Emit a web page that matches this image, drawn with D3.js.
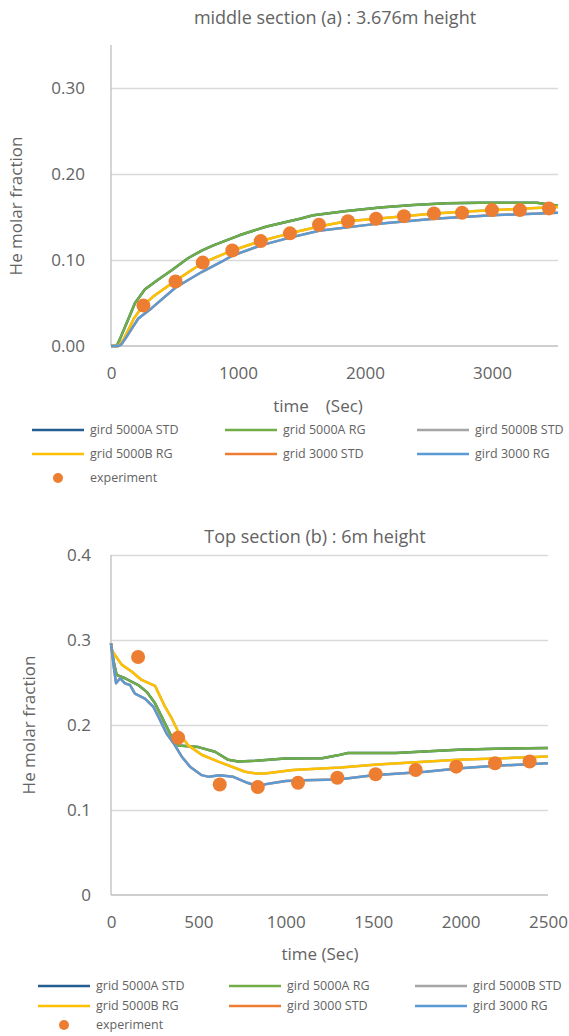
<!DOCTYPE html>
<html>
<head>
<meta charset="utf-8">
<script src="https://cdn.jsdelivr.net/npm/d3@7"></script>
<style>
  body { margin: 0; background: #fff; }
  svg { display: block; font-family: "Open Sans", "Noto Sans", sans-serif; }
  text { fill: #636363; }
</style>
</head>
<body>
<svg id="chart" width="569" height="1036"></svg>
<script>
/* globals d3 */

// ---- middle section (a) ----
var midXTicks = [0, 1000, 2000, 3000];
var midYTicks = [0, 0.1, 0.2, 0.3];

var mid5000A_RG = [[0,0],[45,0],[70,0.008],[110,0.022],[150,0.036],[189,0.050],[268,0.066],[370,0.077],[478,0.088],[606,0.102],[714,0.111],[806,0.117],[1016,0.129],[1226,0.139],[1488,0.148],[1593,0.152],[1856,0.157],[2118,0.161],[2380,0.164],[2643,0.166],[2905,0.1665],[3168,0.1665],[3352,0.1665],[3520,0.163]];
var mid5000B_RG = [[0,0],[55,0],[71,0.002],[100,0.008],[136,0.0185],[180,0.032],[254,0.0475],[346,0.059],[509,0.076],[714,0.096],[871,0.106],[955,0.111],[1179,0.122],[1409,0.131],[1638,0.139],[1856,0.145],[2087,0.148],[2307,0.151],[2543,0.154],[2764,0.156],[3220,0.1595],[3520,0.1615]];
var mid3000_RG = [[0,0],[60,0],[82,0.002],[120,0.01],[150,0.017],[215,0.032],[320,0.044],[509,0.068],[714,0.086],[871,0.098],[955,0.105],[1179,0.117],[1409,0.126],[1638,0.134],[2087,0.142],[2543,0.148],[3000,0.152],[3520,0.155]];
// STD runs sit under the RG runs in the picture
var mid5000A_STD = mid5000A_RG;
var mid5000B_STD = mid5000B_RG;
var mid3000_STD = mid3000_RG;

var midExpTime = [255, 508, 722, 955, 1179, 1409, 1638, 1866, 2087, 2307, 2543, 2764, 3000, 3220, 3449];
var midExpValue = [0.047, 0.075, 0.097, 0.111, 0.122, 0.131, 0.141, 0.145, 0.148, 0.151, 0.154, 0.155, 0.158, 0.158, 0.160];

// ---- top section (b) ----
var topXTicks = [0, 500, 1000, 1500, 2000, 2500];
var topYTicks = [0, 0.1, 0.2, 0.3, 0.4];

var top5000A_RG = [[0,0.296],[15,0.275],[32,0.259],[80,0.255],[156,0.247],[204,0.239],[252,0.2255],[299,0.206],[347,0.186],[385,0.176],[500,0.174],[595,0.1685],[671,0.159],[728,0.157],[830,0.158],[995,0.1605],[1208,0.161],[1290,0.164],[1355,0.167],[1628,0.167],[1985,0.171],[2200,0.172],[2500,0.173]];
var top5000B_RG = [[0,0.296],[4,0.288],[61,0.271],[118,0.263],[175,0.253],[252,0.246],[309,0.2215],[347,0.208],[385,0.192],[442,0.176],[519,0.165],[614,0.157],[767,0.145],[830,0.143],[881,0.143],[995,0.146],[1040,0.147],[1313,0.150],[1523,0.1535],[1985,0.159],[2500,0.163]];
var top3000_RG = [[0,0.296],[15,0.27],[29,0.249],[52,0.255],[80,0.249],[109,0.247],[137,0.237],[194,0.231],[242,0.2215],[280,0.206],[318,0.190],[366,0.176],[404,0.163],[452,0.151],[519,0.141],[560,0.139],[620,0.141],[700,0.139],[780,0.132],[840,0.128],[900,0.131],[1000,0.134],[1100,0.135],[1300,0.136],[1500,0.141],[1800,0.145],[2000,0.149],[2200,0.152],[2500,0.155]];
var top5000A_STD = top5000A_RG;
var top5000B_STD = top5000B_RG;
var top3000_STD = top3000_RG;

var topExpTime = [155, 384, 622, 840, 1070, 1295, 1514, 1743, 1975, 2197, 2395];
var topExpValue = [0.280, 0.185, 0.130, 0.127, 0.132, 0.138, 0.142, 0.147, 0.151, 0.155, 0.157];

var colors = ['#255e91', '#70ad47', '#a5a5a5', '#ffc000', '#ed7d31', '#5b9bd5'];
var expColor = '#ed7d31';

var svg = d3.select('#chart');

drawChart({
  title: 'middle section (a) : 3.676m height',
  titleX: 335, titleY: 24,
  xTitle: 'time\u3000(Sec)', xTitleX: 318,
  left: 111, right: 558, top: 45, bottom: 346,
  xMax: 3520, yMax: 0.35,
  xTicks: midXTicks, yTicks: midYTicks,
  yFormat: d3.format('.2f'),
  yLabelX: 85, xLabelY: 379, xTitleY: 412, yTitleX: 22, yTitleY: 206,
  series: [mid5000A_STD, mid5000A_RG, mid5000B_STD, mid5000B_RG, mid3000_STD, mid3000_RG],
  expTime: midExpTime, expValue: midExpValue,
  names: ['gird 5000A STD', 'grid 5000A RG', 'gird 5000B STD', 'grid 5000B RG', 'grid 3000 STD', 'gird 3000 RG'],
  legendX: [32, 225, 417], legendY: [430, 454, 478]
});

drawChart({
  title: 'Top section (b) : 6m height',
  titleX: 315, titleY: 543,
  xTitle: 'time (Sec)', xTitleX: 320,
  left: 111, right: 548, top: 555, bottom: 895,
  xMax: 2500, yMax: 0.4,
  xTicks: topXTicks, yTicks: topYTicks,
  yFormat: function (d) { return d === 0 ? '0' : d3.format('.1f')(d); },
  yLabelX: 91, xLabelY: 928, xTitleY: 960, yTitleX: 35, yTitleY: 725,
  series: [top5000A_STD, top5000A_RG, top5000B_STD, top5000B_RG, top3000_STD, top3000_RG],
  expTime: topExpTime, expValue: topExpValue,
  names: ['grid 5000A STD', 'gird 5000A RG', 'gird 5000B STD', 'grid 5000B RG', 'gird 3000 STD', 'gird 3000 RG'],
  legendX: [38, 229, 415], legendY: [986, 1006, 1025]
});

function drawChart(c) {
  var g = svg.append('g');

  var x = d3.scaleLinear().domain([0, c.xMax]).range([c.left, c.right]);
  var y = d3.scaleLinear().domain([0, c.yMax]).range([c.bottom, c.top]);

  // Title
  g.append('text')
    .attr('x', c.titleX)
    .attr('y', c.titleY)
    .attr('text-anchor', 'middle')
    .attr('font-size', 18)
    .text(c.title);

  // Gridlines
  var gridTicks = c.yTicks.filter(function (d) { return d > 0; });
  var yAxis = d3.axisLeft(y)
    .tickValues(gridTicks)
    .tickSize(-(c.right - c.left))
    .tickFormat('');
  g.append('g')
    .attr('transform', 'translate(' + c.left + ',0)')
    .call(yAxis)
    .call(function (s) {
      s.select('.domain').remove();
      s.selectAll('.tick line').attr('stroke', '#d9d9d9').attr('stroke-width', 1.3);
    });

  // Y labels
  g.selectAll('.ylab')
    .data(c.yTicks)
    .enter().append('text')
    .attr('x', c.yLabelX)
    .attr('y', function (d) { return y(d); })
    .attr('dy', '0.35em')
    .attr('text-anchor', 'end')
    .attr('font-size', 17)
    .text(c.yFormat);

  // Axis lines
  g.append('line')
    .attr('x1', c.left).attr('x2', c.left)
    .attr('y1', c.top).attr('y2', c.bottom)
    .attr('stroke', '#bfbfbf').attr('stroke-width', 1.3);
  g.append('line')
    .attr('x1', c.left).attr('x2', c.right)
    .attr('y1', c.bottom).attr('y2', c.bottom)
    .attr('stroke', '#bfbfbf').attr('stroke-width', 1.3);

  // X labels
  var xAxis = d3.axisBottom(x)
    .tickValues(c.xTicks)
    .tickFormat(d3.format('d'))
    .tickSize(0).tickPadding(0);
  g.append('g')
    .attr('transform', 'translate(0,' + (c.xLabelY - 12) + ')')
    .call(xAxis)
    .attr('font-family', null)
    .attr('font-size', null)
    .call(function (s) {
      s.select('.domain').remove();
      s.selectAll('text')
        .attr('font-size', 17)
        .attr('fill', null);
    });

  // Axis titles
  g.append('text')
    .attr('x', c.xTitleX)
    .attr('y', c.xTitleY)
    .attr('text-anchor', 'middle')
    .attr('font-size', 17)
    .style('white-space', 'pre')
    .text(c.xTitle);

  g.append('text')
    .attr('transform', 'translate(' + c.yTitleX + ',' + c.yTitleY + ') rotate(-90)')
    .attr('text-anchor', 'middle')
    .attr('font-size', 17)
    .text('He molar fraction');

  // Model runs
  var line = d3.line()
    .x(function (d) { return x(d[0]); })
    .y(function (d) { return y(d[1]); });

  g.selectAll('.run')
    .data(c.series)
    .enter().append('path')
    .attr('d', line)
    .attr('fill', 'none')
    .attr('stroke', function (d, i) { return colors[i]; })
    .attr('stroke-width', 2.5)
    .attr('stroke-linejoin', 'round');

  // Experiment points
  g.selectAll('.exp')
    .data(c.expTime)
    .enter().append('circle')
    .attr('cx', function (d) { return x(d); })
    .attr('cy', function (d, i) { return y(c.expValue[i]); })
    .attr('r', 7)
    .attr('fill', expColor);

  // Legend
  c.names.forEach(function (name, i) {
    var lx = c.legendX[i % 3], ly = c.legendY[Math.floor(i / 3)];
    g.append('line')
      .attr('x1', lx).attr('x2', lx + 52)
      .attr('y1', ly).attr('y2', ly)
      .attr('stroke', colors[i]).attr('stroke-width', 2.5);
    g.append('text')
      .attr('x', lx + 58).attr('y', ly)
      .attr('dy', '0.35em')
      .attr('font-size', 12.5)
      .text(name);
  });
  var ey = c.legendY[2];
  g.append('circle')
    .attr('cx', c.legendX[0] + 26).attr('cy', ey)
    .attr('r', 5).attr('fill', expColor);
  g.append('text')
    .attr('x', c.legendX[0] + 58).attr('y', ey)
    .attr('dy', '0.35em')
    .attr('font-size', 12.5)
    .text('experiment');
}
</script>
</body>
</html>
